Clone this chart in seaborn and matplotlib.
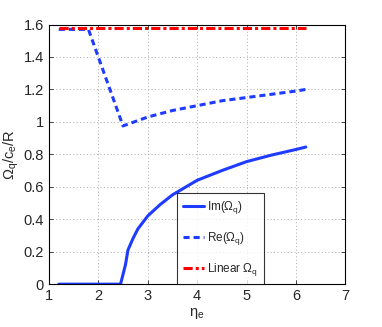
import numpy as np
import pandas as pd
import seaborn as sns
import matplotlib
matplotlib.use("Agg")
import matplotlib.pyplot as plt

eta_im = [1.2, 2.0, 2.45, 2.55, 2.6, 2.7, 2.8, 3.0, 3.25, 3.5, 4.0, 4.5, 5.0, 5.5, 6.0, 6.2]
im_vals = [0.0, 0.0, 0.0, 0.12, 0.21, 0.28, 0.34, 0.42, 0.49, 0.55, 0.64, 0.70, 0.755, 0.795, 0.83, 0.845]

eta_re = [1.2, 1.8, 2.5, 3.0, 3.5, 4.0, 4.5, 5.0, 5.5, 6.0, 6.2]
re_vals = [1.57, 1.57, 0.975, 1.03, 1.07, 1.10, 1.13, 1.15, 1.17, 1.19, 1.20]

eta_lin = [1.2, 6.2]
lin_vals = [1.58, 1.58]

xticks = [1, 2, 3, 4, 5, 6, 7]
yticks = [0, 0.2, 0.4, 0.6, 0.8, 1.0, 1.2, 1.4, 1.6]
ytick_labels = ["0", "0.2", "0.4", "0.6", "0.8", "1", "1.2", "1.4", "1.6"]

sns.set_style("ticks")
plt.rcParams['font.family'] = ['Liberation Sans Narrow', 'Liberation Sans', 'DejaVu Sans']
plt.rcParams['mathtext.fontset'] = 'custom'
plt.rcParams['mathtext.rm'] = 'Liberation Sans'
plt.rcParams['mathtext.it'] = 'Liberation Sans'

fig = plt.figure(figsize=(3.82, 3.27), dpi=100)
ax = fig.add_axes([0.128, 0.131, 0.776, 0.794])

blue = "#1f3bff"
sns.lineplot(x=eta_im, y=im_vals, ax=ax, color=blue, lw=2.2, label=r"Im($\Omega_q$)")
sns.lineplot(x=eta_re, y=re_vals, ax=ax, color=blue, lw=2.2, label=r"Re($\Omega_q$)")
sns.lineplot(x=eta_lin, y=lin_vals, ax=ax, color="red", lw=2.2, label=r"Linear $\Omega_q$")
ax.lines[1].set_dashes([2.0, 1.3])
ax.lines[2].set_dashes([3.0, 1.0, 1.0, 1.0])

ax.set_xlim(1, 7)
ax.set_ylim(0, 1.6)
ax.set_xticks(xticks)
ax.set_yticks(yticks)
ax.set_yticklabels(ytick_labels)
ax.tick_params(direction="in", length=3, labelsize=10.5, width=0.6, top=True, right=True, labeltop=False, labelright=False)
ax.grid(True, linestyle=(0, (1, 2.5)), color="#aaaaaa", lw=0.7)
for s in ax.spines.values():
    s.set_linewidth(0.8)
    s.set_color("black")

ax.set_xlabel(r"$\eta_e$", fontsize=10.5, labelpad=2)
ax.set_ylabel(r"$\Omega_q/c_e/R$", fontsize=10.5, labelpad=2)

leg = ax.legend(loc="lower left", bbox_to_anchor=(0.433, 0.0), frameon=True, fancybox=False,
                edgecolor="black", fontsize=8.5, handlelength=1.8, handletextpad=0.2,
                borderpad=0.5, labelspacing=1.2, borderaxespad=0.0)
leg.get_frame().set_linewidth(0.8)

fig.savefig("out.png", dpi=100)
